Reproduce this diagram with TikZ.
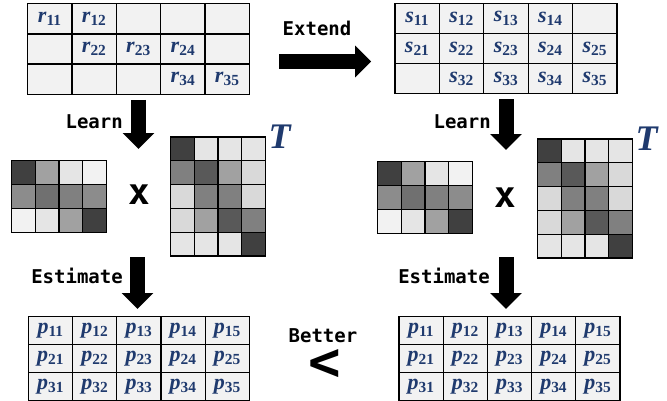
\documentclass[tikz,border=0pt]{standalone}
\usepackage{fontspec}
\newfontfamily\lblfont{DejaVu Sans Mono}
\newfontfamily\valfont{Liberation Serif}
\usetikzlibrary{matrix,arrows.meta,positioning}
\definecolor{cellblue}{HTML}{1F3A6E}
\definecolor{gridfill}{HTML}{F2F2F2}
\colorlet{g75}{black!75}
\colorlet{g65}{black!65}
\colorlet{g56}{black!56}
\colorlet{g50}{black!50}
\colorlet{g45}{black!45}
\colorlet{g37}{black!37}
\colorlet{g15}{black!15}
\colorlet{g10}{black!10}
\colorlet{g5}{black!5}
\newcommand{\cval}[2]{\textit{#1}\textsubscript{\upshape #2}}

\begin{document}
\begin{tikzpicture}[x=1pt, y=-1pt,
  vcell/.style={draw, line width=1.2pt, fill=gridfill, inner sep=0pt, outer sep=0pt,
                anchor=center, minimum width=44.4pt, minimum height=30.1pt, text=cellblue,
                font=\valfont\bfseries\fontsize{22}{24}\selectfont},
  pcell/.style={vcell, minimum width=44.2pt, minimum height=27.8pt},
  gcell/.style={draw, line width=1.1pt, inner sep=0pt, outer sep=0pt, anchor=center,
                minimum size=23.8pt},
  valgrid/.style={matrix of nodes, nodes in empty cells, inner sep=0pt,
                  column sep=-1.2pt, row sep=-1.2pt},
  gmat/.style={matrix of nodes, nodes in empty cells, inner sep=0pt, nodes={gcell},
               column sep=-1.1pt, row sep=-1.1pt},
  lbl/.style={font=\lblfont\bfseries\fontsize{19}{21}\selectfont, inner sep=0pt},
  mul/.style={font=\lblfont\bfseries\fontsize{36}{38}\selectfont, inner sep=0pt},
  cmp/.style={font=\lblfont\bfseries\fontsize{54}{56}\selectfont, inner sep=0pt},
  tlbl/.style={text=cellblue, font=\valfont\bfseries\itshape\fontsize{36}{38}\selectfont,
               inner sep=0pt},
  fat/.style={line width=15pt, -{Triangle[width=31pt,length=16pt]}},
]
  \useasboundingbox (0,0) rectangle (667,400);

  % ── Observed and extended tables ─────────────────
  \matrix (rgrid) [valgrid, nodes={vcell}] at (138.5,49) {
    \cval{r}{11} & \cval{r}{12} & & & \\
    & \cval{r}{22} & \cval{r}{23} & \cval{r}{24} & \\
    & & & \cval{r}{34} & \cval{r}{35} \\
  };
  \matrix (sgrid) [valgrid, nodes={vcell}] at (506,48.5) {
    \cval{s}{11} & \cval{s}{12} & \cval{s}{13} & \cval{s}{14} & \\
    \cval{s}{21} & \cval{s}{22} & \cval{s}{23} & \cval{s}{24} & \cval{s}{25} \\
    & \cval{s}{32} & \cval{s}{33} & \cval{s}{34} & \cval{s}{35} \\
  };

  % ── Learned factors ─────────────────
  \matrix (wl) [gmat] at (59,196.5) {
    |[fill=g75]| & |[fill=g37]| & |[fill=g10]| & |[fill=g5]| \\
    |[fill=g45]| & |[fill=g56]| & |[fill=g50]| & |[fill=g45]| \\
    |[fill=g5]| & |[fill=g10]| & |[fill=g37]| & |[fill=g75]| \\
  };
  \matrix (tl) [gmat] at (218,196.5) {
    |[fill=g75]| & |[fill=g10]| & |[fill=g10]| & |[fill=g10]| \\
    |[fill=g50]| & |[fill=g65]| & |[fill=g37]| & |[fill=g15]| \\
    |[fill=g15]| & |[fill=g50]| & |[fill=g50]| & |[fill=g15]| \\
    |[fill=g15]| & |[fill=g37]| & |[fill=g65]| & |[fill=g50]| \\
    |[fill=g10]| & |[fill=g10]| & |[fill=g10]| & |[fill=g75]| \\
  };
  \node[mul] (mulL) at (139,195) {x};
  \node[tlbl, right=2pt of tl.north east] (tL) {T};

  \matrix (wr) [gmat] at (425,197.5) {
    |[fill=g75]| & |[fill=g37]| & |[fill=g10]| & |[fill=g5]| \\
    |[fill=g45]| & |[fill=g56]| & |[fill=g50]| & |[fill=g45]| \\
    |[fill=g5]| & |[fill=g10]| & |[fill=g37]| & |[fill=g75]| \\
  };
  \matrix (tr) [gmat] at (585,198.5) {
    |[fill=g75]| & |[fill=g10]| & |[fill=g10]| & |[fill=g10]| \\
    |[fill=g50]| & |[fill=g65]| & |[fill=g37]| & |[fill=g15]| \\
    |[fill=g15]| & |[fill=g50]| & |[fill=g50]| & |[fill=g15]| \\
    |[fill=g15]| & |[fill=g37]| & |[fill=g65]| & |[fill=g50]| \\
    |[fill=g10]| & |[fill=g10]| & |[fill=g10]| & |[fill=g75]| \\
  };
  \node[mul] (mulR) at (505,198) {x};
  \node[tlbl, right=2pt of tr.north east] (tR) {T};

  % ── Estimated tables ─────────────────
  \matrix (pl) [valgrid, nodes={pcell}] at (139,358.5) {
    \cval{p}{11} & \cval{p}{12} & \cval{p}{13} & \cval{p}{14} & \cval{p}{15} \\
    \cval{p}{21} & \cval{p}{22} & \cval{p}{23} & \cval{p}{24} & \cval{p}{25} \\
    \cval{p}{31} & \cval{p}{32} & \cval{p}{33} & \cval{p}{34} & \cval{p}{35} \\
  };
  \matrix (pr) [valgrid, nodes={pcell}] at (509.5,358.5) {
    \cval{p}{11} & \cval{p}{12} & \cval{p}{13} & \cval{p}{14} & \cval{p}{15} \\
    \cval{p}{21} & \cval{p}{22} & \cval{p}{23} & \cval{p}{24} & \cval{p}{25} \\
    \cval{p}{31} & \cval{p}{32} & \cval{p}{33} & \cval{p}{34} & \cval{p}{35} \\
  };

  % ── Arrows ──────────────────────
  \coordinate (lrnL) at (138.5,149);
  \coordinate (lrnR) at (506,150);
  \coordinate (estL) at (137.5,257);
  \coordinate (estR) at (506,257);
  \draw[fat, shorten <=29pt, shorten >=23pt] ([yshift=-12.5pt]rgrid.east) -- ([yshift=-13pt]sgrid.west);
  \draw[fat] ([yshift=-5pt]rgrid.south) -- (lrnL);
  \draw[fat] ([yshift=-5pt]sgrid.south) -- (lrnR);
  \draw[fat, shorten >=7pt] (estL) -- (estL |- pl.north);
  \draw[fat, shorten >=7pt] (estR) -- (estR |- pr.north);

  % ── Labels ──────────────────────
  \node[lbl] (ext) at (317,28) {Extend};
  \node[lbl, anchor=east] (lrnLt) at (123,122) {Learn};
  \node[lbl, anchor=east] (lrnRt) at (491,122) {Learn};
  \node[lbl, anchor=east] (estLt) at (123,276) {Estimate};
  \node[lbl, anchor=east] (estRt) at (490,276) {Estimate};
  \node[lbl] (btr) at (323,336) {Better};
  \node[cmp] (less) at (325,365) {<};
\end{tikzpicture}
\end{document}
